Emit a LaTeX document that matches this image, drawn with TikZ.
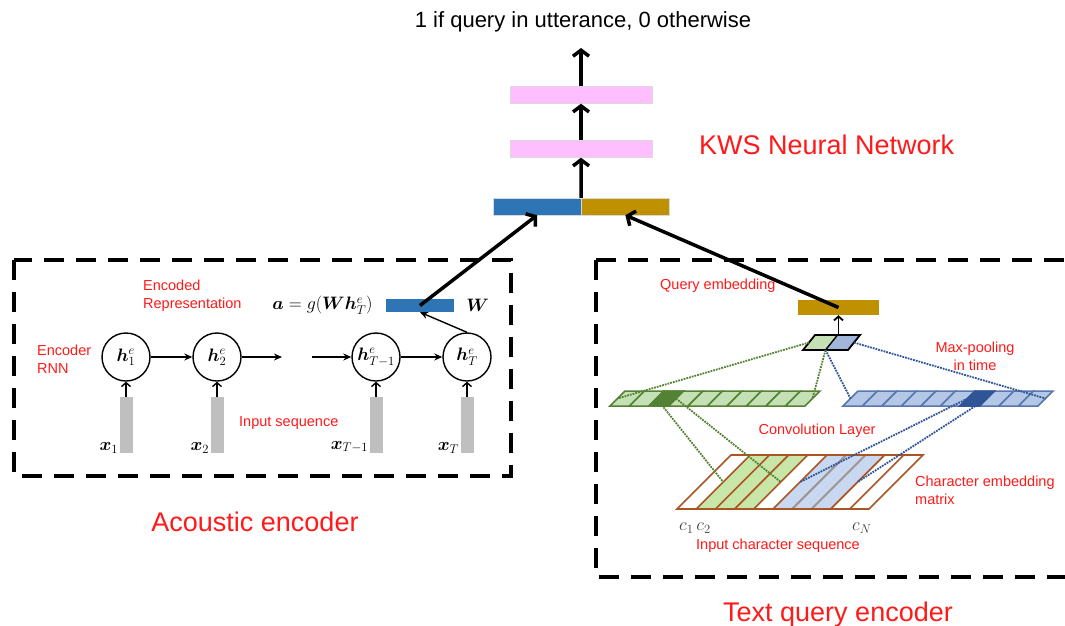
\RequirePackage{fix-cm}
\documentclass[tikz,border=0pt]{standalone}
\usepackage{amsmath,bm}
\usepackage{fontspec}
\setmainfont{Liberation Sans}
\usetikzlibrary{arrows.meta,positioning,calc}
\definecolor{wblue}{RGB}{46,117,182}
\definecolor{qgold}{RGB}{191,144,0}
\definecolor{fcpink}{RGB}{255,190,255}
\definecolor{inpgray}{RGB}{191,191,191}
\definecolor{lblred}{RGB}{255,25,25}
\definecolor{cnngreen}{RGB}{84,130,53}
\definecolor{cnngreenfill}{RGB}{197,224,180}
\definecolor{cnnblue}{RGB}{47,85,151}
\definecolor{cnnbluefill}{RGB}{180,199,231}
\definecolor{embbrown}{RGB}{170,85,35}
\definecolor{embgreen}{RGB}{200,230,168}
\definecolor{embblue}{RGB}{200,216,240}

\tikzset{
  bigarrow/.style={line width=3.5pt, -{Straight Barb[length=6pt,width=16pt]}},
  rnnarrow/.style={line width=1.4pt, -{Stealth[length=8pt,width=7pt]}},
  uparrow/.style={line width=1.8pt, -{Straight Barb[length=4pt,width=9pt]}},
  dashbox/.style={line width=3.2pt, dash pattern=on 20pt off 12pt},
  layerbox/.style={draw=black!15, line width=0.4pt, minimum height=17pt, inner sep=0pt},
  rnncell/.style={circle, draw, line width=1.4pt, minimum size=48pt, inner sep=0pt,
    font=\fontsize{18}{20}\selectfont},
  inbar/.style={fill=inpgray, minimum width=13pt, minimum height=56pt, inner sep=0pt},
  mathlbl/.style={font=\fontsize{18}{20}\selectfont, inner sep=0pt},
  redlbl/.style={text=lblred, font=\fontsize{14.5}{18}\selectfont, inner sep=0pt},
  biglbl/.style={text=lblred, font=\fontsize{27}{30}\selectfont, inner sep=0pt},
  dotgreen/.style={cnngreen, line width=1.8pt, densely dotted},
  dotblue/.style={cnnblue, line width=1.8pt, densely dotted}
}

\begin{document}
\begin{tikzpicture}[x=1pt,y=-1pt]
\useasboundingbox (0,0) rectangle (1065,625);

% KWS network on top
\node[layerbox, fill=wblue, minimum width=88pt] (encA) at (537,206.5) {};
\node[layerbox, fill=qgold, minimum width=88pt, right=0pt of encA] (encQ) {};
\node[layerbox, fill=fcpink, minimum width=142pt] (fc1) at (581,149) {};
\node[layerbox, fill=fcpink, minimum width=142pt] (fc2) at (581,95) {};
\coordinate (top) at (581,48);
\node[font=\fontsize{22}{24}\selectfont, inner sep=0pt] (out) at (583,22) {1 if query in utterance, 0 otherwise};
\draw[bigarrow] (encA.north east) -- (fc1.south);
\draw[bigarrow] (fc1.north) -- (fc2.south);
\draw[bigarrow] (fc2.north) -- (top);
\node[biglbl, anchor=west] (kws) at (699,145) {KWS Neural Network};

% Acoustic encoder
\draw[dashbox] (14,260) rectangle (511,476);
\node[biglbl] (acoustic) at (255,522) {Acoustic encoder};
\node[rnncell] (h1) at (126,357) {$\bm{h}^{e}_{1}$};
\node[rnncell] (h2) at (217,357) {$\bm{h}^{e}_{2}$};
\node[rnncell] (hT1) at (376,357) {$\bm{h}^{e}_{T-1}$};
\node[rnncell] (hT) at (467,357) {$\bm{h}^{e}_{T}$};
\coordinate (gapL) at (282,357);
\coordinate (gapR) at (312,357);
\draw[rnnarrow] (h1) -- (h2);
\draw[rnnarrow] (h2) -- (gapL);
\draw[rnnarrow] (gapR) -- (hT1);
\draw[rnnarrow] (hT1) -- (hT);
\node[inbar] (x1bar) at (126,425) {};
\node[inbar] (x2bar) at (217,425) {};
\node[inbar] (xT1bar) at (376,425) {};
\node[inbar] (xTbar) at (467,425) {};
\foreach \b/\c in {x1bar/h1, x2bar/h2, xT1bar/hT1, xTbar/hT}
  \draw[uparrow, line width=1.4pt] (\b.north) -- (\c.south);
\node[mathlbl, anchor=south east, xshift=-1pt] at (x1bar.south west) {$\bm{x}_{1}$};
\node[mathlbl, anchor=south east, xshift=-1pt] at (x2bar.south west) {$\bm{x}_{2}$};
\node[mathlbl, anchor=south east, xshift=-1pt] at (xT1bar.south west) {$\bm{x}_{T-1}$};
\node[mathlbl, anchor=south east, xshift=-1pt] at (xTbar.south west) {$\bm{x}_{T}$};
\node[redlbl, anchor=west, align=left] (rnnlbl) at (37,359) {Encoder\\RNN};
\node[redlbl, anchor=west] (inseq) at (239,423) {Input sequence};
\node[redlbl, anchor=west, align=left] (enclbl) at (143,296) {Encoded\\Representation};
\node[fill=wblue, minimum width=68pt, minimum height=13pt, inner sep=0pt] (Wbar) at (420,305.5) {};
\node[mathlbl, left=13pt of Wbar] (alabel) {$\bm{a} = g(\bm{W}\bm{h}^{e}_{T})$};
\node[mathlbl, right=12pt of Wbar] (Wlbl) {$\bm{W}$};
\draw[line width=1.4pt, -{Stealth[length=8pt,width=7pt]}] (hT.north) -- (Wbar.south);
\draw[bigarrow] (Wbar.center) -- (encA.south);

% Text query encoder
\draw[dashbox] (596,260) -- (1085,260);
\draw[dashbox] (596,260) -- (596,577) -- (1085,577);
\node[biglbl, anchor=base west] (textenc) at (723,621) {Text query encoder};
\node[fill=qgold, minimum width=81pt, minimum height=15pt, inner sep=0pt] (qemb) at (838.5,307.5) {};
\node[redlbl, anchor=west] (qlbl) at (660,286) {Query embedding};
\draw[bigarrow] (qemb.center) -- (encQ.south);

% character embedding matrix
\foreach \i in {1,2,3}
  \fill[embgreen] ({677+19.2*\i},509) -- ({731+19.2*\i},455) -- ({750.2+19.2*\i},455) -- ({696.2+19.2*\i},509) -- cycle;
\foreach \i in {5,6,7}
  \fill[embblue] ({677+19.2*\i},509) -- ({731+19.2*\i},455) -- ({750.2+19.2*\i},455) -- ({696.2+19.2*\i},509) -- cycle;
\foreach \i in {1,...,9}
  \draw[embbrown, line width=1.6pt] ({677+19.2*\i},509) -- ({731+19.2*\i},455);
\foreach \i in {6,7}
  \draw[black!40, line width=1.6pt] ({677+19.2*\i},509) -- ({731+19.2*\i},455);
\draw[embbrown, line width=1.6pt] (677,509) -- (731,455) -- (923,455) -- (869,509) -- cycle;

% convolution feature maps
\foreach \i in {0,...,9} {
  \filldraw[fill=cnngreenfill, draw=cnngreen, line width=1.5pt]
    ({610+19.5*\i},406) -- ({625+19.5*\i},391) -- ({644.5+19.5*\i},391) -- ({629.5+19.5*\i},406) -- cycle;
  \filldraw[fill=cnnbluefill, draw=cnnblue!80!white, line width=1.5pt]
    ({843+19.5*\i},406) -- ({858+19.5*\i},391) -- ({877.5+19.5*\i},391) -- ({862.5+19.5*\i},406) -- cycle;
}
\filldraw[fill=cnngreen, draw=cnngreen, line width=1.5pt]
  (649,406) -- (664,391) -- (683.5,391) -- (668.5,406) -- cycle;
\filldraw[fill=cnnblue, draw=cnnblue, line width=1.5pt]
  (960,406) -- (975,391) -- (994.5,391) -- (979.5,406) -- cycle;

% max-pooling
\fill[cnngreenfill] (803,350) -- (815,335) -- (837.5,335) -- (825.5,350) -- cycle;
\fill[cnnbluefill!85!cnnblue] (825.5,350) -- (837.5,335) -- (860,335) -- (848,350) -- cycle;
\draw[line width=1.8pt] (803,350) -- (815,335) -- (860,335) -- (848,350) -- cycle;
\draw[line width=1.4pt] (825.5,350) -- (837.5,335);
\coordinate (mpL) at (809,342.5);
\coordinate (mpM) at (825.5,350);
\coordinate (mpR) at (854,342.5);
\coordinate (mpTop) at (838.5,335);
\draw[uparrow] (mpTop) -- (qemb.south);

% dotted connections
\coordinate (gL) at (617.5,398.5);
\coordinate (gR) at (812.5,398.5);
\coordinate (bL) at (850.5,398.5);
\coordinate (bR) at (1045.5,398.5);
\coordinate (gdL) at (656.5,398.5);
\coordinate (gdR) at (676,398.5);
\coordinate (bdL) at (967.5,398.5);
\coordinate (bdR) at (987,398.5);
\coordinate (eGL) at (723.2,482);
\coordinate (eGR) at (780.8,482);
\coordinate (eBL) at (800,482);
\coordinate (eBR) at (857.6,482);
\draw[dotgreen] (mpL) -- (gL);
\draw[dotgreen] (mpM) -- (gR);
\draw[dotblue] (mpM) -- (bL);
\draw[dotblue] (mpR) -- (bR);
\draw[dotgreen] (gdL) -- (eGL);
\draw[dotgreen] (gdR) -- (eGR);
\draw[dotblue] (bdL) -- (eBL);
\draw[dotblue] (bdR) -- (eBR);

% labels of the text encoder
\node[redlbl, align=center] (mplbl) at (975,356) {Max-pooling\\in time};
\node[redlbl] (convlbl) at (817,431) {Convolution Layer};
\node[redlbl, anchor=west, align=left] (emblbl) at (915,490) {Character embedding\\matrix};
\node[mathlbl, text=black!75, anchor=west] (c12) at (679,528) {$c_{1}\,c_{2}$};
\node[mathlbl, text=black!75, anchor=west] (cN) at (852,528) {$c_{N}$};
\node[redlbl] (charseq) at (778,546) {Input character sequence};
\end{tikzpicture}
\end{document}
